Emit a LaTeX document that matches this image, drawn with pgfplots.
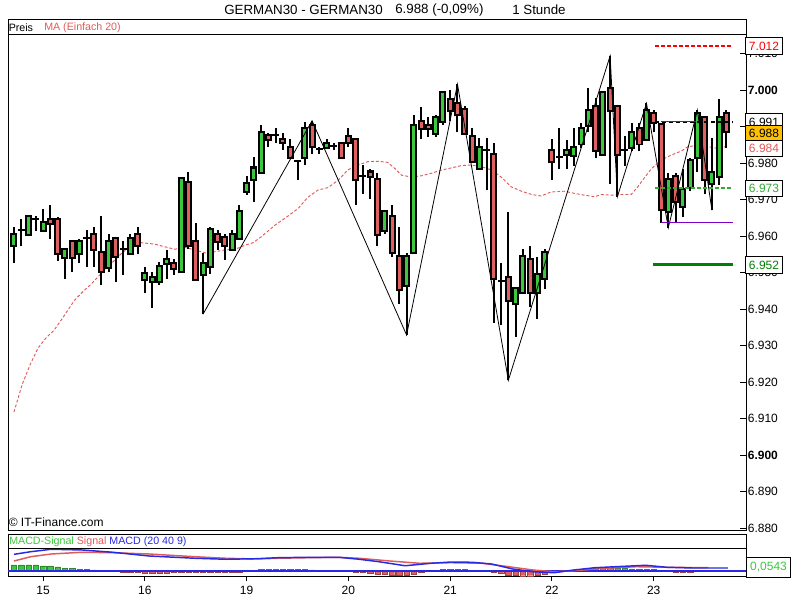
\documentclass[border=0pt]{standalone}
\usepackage{fontspec}
\setmainfont{Liberation Sans}
\usepackage{pgfplots}
\usepackage{pgfplotstable}
\pgfplotsset{compat=1.18}
\definecolor{cg}{RGB}{60,200,60}
\definecolor{cr}{RGB}{222,96,96}
\definecolor{ma}{RGB}{225,90,90}
\definecolor{mb}{RGB}{40,40,230}
\definecolor{pu}{RGB}{130,0,200}
\definecolor{dg}{RGB}{0,128,0}
\definecolor{gold}{RGB}{255,192,0}

\pgfplotstableread{
i L H lo hi
0 6.9525 6.9625 6.9572 6.9607
1 6.9572 6.9646 6.9616 6.9616
2 6.9600 6.9658 6.9602 6.9656
3 6.9614 6.9656 6.9648 6.9648
4 6.9614 6.9673 6.9614 6.9638
7 6.9483 6.9567 6.9541 6.9565
9 6.9525 6.9593 6.9552 6.9587
10 6.9514 6.9616 6.9595 6.9595
13 6.9502 6.9605 6.9513 6.9587
15 6.9493 6.9586 6.9564 6.9564
16 6.9550 6.9605 6.9552 6.9595
18 6.9445 6.9514 6.9481 6.9498
19 6.9404 6.9502 6.9474 6.9487
20 6.9465 6.9530 6.9474 6.9518
21 6.9483 6.9563 6.9523 6.9537
23 6.9500 6.9760 6.9501 6.9758
26 6.9386 6.9553 6.9493 6.9527
27 6.9496 6.9625 6.9514 6.9620
30 6.9560 6.9616 6.9562 6.9607
31 6.9591 6.9684 6.9593 6.9668
32 6.9713 6.9764 6.9722 6.9746
33 6.9694 6.9817 6.9753 6.9788
34 6.9772 6.9904 6.9774 6.9886
36 6.9854 6.9895 6.9876 6.9876
39 6.9755 6.9808 6.9806 6.9806
40 6.9795 6.9913 6.9813 6.9895
42 6.9825 6.9845 6.9838 6.9838
43 6.9840 6.9865 6.9841 6.9856
44 6.9836 6.9856 6.9847 6.9847
48 6.9715 6.9795 6.9764 6.9764
51 6.9605 6.9672 6.9614 6.9668
54 6.9329 6.9555 6.9464 6.9546
55 6.9551 6.9933 6.9553 6.9904
58 6.9872 6.9933 6.9881 6.9927
59 6.9904 6.9997 6.9913 6.9995
64 6.9782 6.9868 6.9784 6.9845
65 6.9726 6.9868 6.9836 6.9836
67 6.9356 6.9525 6.9477 6.9477
69 6.9324 6.9459 6.9413 6.9457
70 6.9441 6.9564 6.9443 6.9546
72 6.9374 6.9543 6.9443 6.9496
73 6.9455 6.9564 6.9482 6.9557
75 6.9784 6.9895 6.9816 6.9816
76 6.9784 6.9863 6.9822 6.9836
77 6.9793 6.9895 6.9820 6.9845
78 6.9842 6.9911 6.9851 6.9897
79 6.9884 7.0005 6.9902 6.9945
81 6.9820 6.9998 6.9822 6.9996
84 6.9793 6.9875 6.9836 6.9836
85 6.9833 6.9911 6.9842 6.9886
87 6.9861 6.9964 6.9863 6.9945
90 6.9623 6.9772 6.9667 6.9756
92 6.9653 6.9785 6.9680 6.9729
93 6.9723 6.9815 6.9731 6.9808
94 6.9775 6.9945 6.9813 6.9936
96 6.9671 6.9868 6.9744 6.9776
97 6.9740 6.9975 6.9762 6.9927
}\greentab

\pgfplotstableread{
i L H lo hi
5 6.9593 6.9685 6.9634 6.9646
6 6.9532 6.9653 6.9552 6.9647
8 6.9501 6.9589 6.9541 6.9587
11 6.9514 6.9624 6.9561 6.9607
12 6.9465 6.9655 6.9502 6.9557
14 6.9475 6.9597 6.9543 6.9595
17 6.9552 6.9624 6.9572 6.9607
22 6.9493 6.9537 6.9511 6.9527
24 6.9566 6.9776 6.9574 6.9747
25 6.9478 6.9635 6.9481 6.9587
28 6.9562 6.9616 6.9585 6.9606
29 6.9534 6.9606 6.9573 6.9597
35 6.9843 6.9883 6.9863 6.9876
37 6.9836 6.9883 6.9854 6.9867
38 6.9811 6.9865 6.9813 6.9845
41 6.9825 6.9916 6.9843 6.9904
45 6.9811 6.9858 6.9813 6.9856
46 6.9843 6.9895 6.9854 6.9874
47 6.9684 6.9869 6.9753 6.9867
49 6.9703 6.9785 6.9762 6.9777
50 6.9574 6.9774 6.9603 6.9756
52 6.9543 6.9685 6.9553 6.9656
53 6.9415 6.9624 6.9452 6.9546
56 6.9866 6.9954 6.9893 6.9915
57 6.9872 6.9927 6.9893 6.9904
60 6.9915 7.0000 6.9942 6.9975
61 6.9884 7.0016 6.9931 6.9964
62 6.9879 6.9957 6.9881 6.9948
63 6.9800 6.9895 6.9802 6.9875
66 6.9363 6.9854 6.9482 6.9826
68 6.9205 6.9665 6.9422 6.9487
71 6.9406 6.9574 6.9443 6.9536
74 6.9753 6.9866 6.9802 6.9836
80 6.9815 6.9979 6.9833 6.9957
82 6.9744 7.0094 6.9943 7.0006
83 6.9708 6.9959 6.9822 6.9957
86 6.9833 6.9911 6.9851 6.9897
88 6.9884 6.9945 6.9911 6.9936
89 6.9635 6.9908 6.9671 6.9906
91 6.9639 6.9774 6.9694 6.9765
95 6.9714 6.9929 6.9753 6.9927
98 6.9842 6.9945 6.9884 6.9936
}\redtab

\pgfplotsset{
  wick/.style={draw=none, mark=none, forget plot,
    error bars/.cd, y dir=plus, y explicit, error mark=none,
    error bar style={draw=black, solid, line width=1.5pt}},
  bodyout/.style={draw=none, mark=none, forget plot,
    error bars/.cd, y dir=plus, y explicit, error mark=none,
    error bar style={draw=black, solid, line width=5.25pt}},
  bodyin/.style={draw=none, mark=none, forget plot,
    error bars/.cd, y dir=plus, y explicit, error mark=none,
    error bar style={draw=#1, solid, line width=2.25pt}},
}

\begin{document}
\begin{tikzpicture}
\path (0,0) rectangle (600pt,450pt);

% ---------------- main price axis ----------------
\begin{axis}[
  at={(6pt,51.75pt)}, anchor=south west, scale only axis,
  width=553.5pt, height=372pt,
  xmin=-0.825, xmax=100.69, ymin=6.8792, ymax=7.0151,
  xtick=\empty,
  ytick={6.88,6.89,6.90,6.91,6.92,6.93,6.94,6.95,6.96,6.97,6.98,6.99,7.00,7.01},
  yticklabels={6.880,6.890,\textbf{6.900},6.910,6.920,6.930,6.940,6.950,6.960,6.970,6.980,6.990,\textbf{7.000},7.010},
  ytick pos=right, yticklabel pos=right,
  tick align=inside, major tick length=4.5pt,
  tick style={black, line width=0.75pt},
  yticklabel style={font=\fontsize{9}{10}\selectfont, anchor=west, inner sep=0pt, xshift=1.2pt},
  axis line style={line width=0.75pt},
  clip mode=individual,
]
% moving average 20
\addplot[ma, line width=0.7pt, dash pattern=on 2.2pt off 1.5pt] coordinates {
(0,6.9118) (1.1,6.9192) (2.2,6.9247) (3.3,6.9293) (4.4,6.9321) (5.5,6.9342) (6.6,6.9373) (8.35,6.9425) (9.7,6.9452) (10.6,6.9468) (12.0,6.9498) (13.4,6.9525) (14.8,6.9553) (16.1,6.9573) (17.5,6.9582) (19.35,6.9578) (20.7,6.9571) (22.1,6.9564) (23.5,6.9569) (24.9,6.9562) (26.3,6.9554) (27.6,6.9557) (29.0,6.9562) (30.4,6.9564) (31.8,6.9575) (32.9,6.9582) (34.0,6.9598) (35.9,6.9630) (37.7,6.9655) (39.1,6.9676) (40.4,6.9706) (41.8,6.9726) (43.2,6.9733) (44.6,6.9753) (45.9,6.9781) (47.3,6.9795) (48.7,6.9804) (50.1,6.9805) (51.4,6.9802) (52.4,6.9785) (53.3,6.9767) (54.6,6.9762) (56.0,6.9765) (57.4,6.9772) (58.8,6.9781) (60.2,6.9787) (61.5,6.9793) (62.9,6.9795) (64.3,6.9790) (65.7,6.9781) (67.0,6.9762) (68.4,6.9735) (69.8,6.9723) (71.2,6.9714) (72.5,6.9710) (73.9,6.9721) (75.7,6.9723) (77.1,6.9717) (78.5,6.9712) (79.9,6.9708) (80.8,6.9714) (82.2,6.9712) (83.5,6.9714) (84.9,6.9714) (85.8,6.9735) (86.8,6.9762) (87.7,6.9785) (89.0,6.9808) (90.4,6.9822) (91.8,6.9833) (92.7,6.9845) (94.1,6.9849) (95.5,6.9845) (96.8,6.9840) (98.2,6.9847)
};
% wicks
\addplot[wick] table[x=i, y=L, y error plus expr=\thisrow{H}-\thisrow{L}] {\greentab};
\addplot[wick] table[x=i, y=L, y error plus expr=\thisrow{H}-\thisrow{L}] {\redtab};
% bodies
\addplot[bodyout] table[x=i, y expr=\thisrow{lo}-0.00027, y error plus expr=\thisrow{hi}-\thisrow{lo}+0.00055] {\greentab};
\addplot[bodyout] table[x=i, y expr=\thisrow{lo}-0.00027, y error plus expr=\thisrow{hi}-\thisrow{lo}+0.00055] {\redtab};
\addplot[bodyin=cg] table[x=i, y expr=\thisrow{lo}+0.00027, y error plus expr={max(\thisrow{hi}-\thisrow{lo}-0.00055,0)}] {\greentab};
\addplot[bodyin=cr] table[x=i, y expr=\thisrow{lo}+0.00027, y error plus expr={max(\thisrow{hi}-\thisrow{lo}-0.00055,0)}] {\redtab};
% zigzag
\addplot[black, line width=0.6pt] coordinates {
(26,6.9386) (41,6.9916) (54,6.9329) (61,7.0016) (68,6.9205) (82,7.0094) (83,6.9708) (87,6.9964) (90,6.9623) (94,6.9945) (96,6.9671)
};
% horizontal levels
\addplot[red, line width=1.5pt, dash pattern=on 3pt off 1.5pt] coordinates {(88.2,7.012) (98.9,7.012)};
\addplot[black, line width=1.5pt, dash pattern=on 3pt off 2.25pt] coordinates {(88.2,6.9912) (98.9,6.9912)};
\addplot[pu, line width=0.75pt] coordinates {(89.0,6.9915) (93.8,6.9915)};
\addplot[pu, line width=0.75pt] coordinates {(89.0,6.9636) (98.9,6.9636)};
\addplot[cg!85!black, line width=1.5pt, dash pattern=on 3pt off 1.5pt] coordinates {(88.2,6.9733) (98.9,6.9733)};
\addplot[dg, line width=2pt] coordinates {(87.9,6.9523) (98.9,6.9523)};
\end{axis}

% ---------------- MACD axis ----------------
\begin{axis}[
  at={(6pt,17.25pt)}, anchor=south west, scale only axis,
  width=553.5pt, height=21pt,
  xmin=-0.825, xmax=100.69, ymin=-0.108, ymax=0.396,
  xtick={4,18,32,46,60,74,88}, xticklabels={15,16,19,20,21,22,23},
  xtick pos=bottom, ytick=\empty,
  tick align=outside, major tick length=3pt,
  tick style={black, line width=0.75pt},
  xticklabel style={font=\fontsize{9}{10}\selectfont, inner sep=0pt, yshift=-4pt},
  axis line style={line width=0.75pt},
]
\addplot[ybar, bar shift=0pt, bar width=4pt, fill=cg, draw=cg!70!black, line width=0.3pt] coordinates {
(0,0.108) (1,0.108) (2,0.108) (3,0.108) (4,0.09) (5,0.09) (6,0.072) (7,0.045) (8,0.045) (9,0.027) (10,0.027) (11,0.018)
(34,0.025) (35,0.025) (36,0.025) (37,0.025) (38,0.025) (39,0.025) (40,0.025) (41,0.02)
(59,0.027) (60,0.027) (61,0.027) (62,0.027)
(78,0.02) (79,0.03) (80,0.045) (81,0.05) (82,0.05) (83,0.05) (84,0.045) (85,0.04) (86,0.035) (87,0.03) (88,0.025)
};
\addplot[ybar, bar shift=0pt, bar width=4pt, fill=cr, draw=cr!70!black, line width=0.3pt] coordinates {
(15,-0.025) (16,-0.025) (17,-0.03) (18,-0.035) (19,-0.035) (20,-0.035) (21,-0.035) (22,-0.03) (23,-0.03) (24,-0.03) (25,-0.03) (26,-0.03) (27,-0.03) (28,-0.03) (29,-0.03) (30,-0.025) (31,-0.025)
(47,-0.02) (48,-0.03) (49,-0.04) (50,-0.05) (51,-0.06) (52,-0.075) (53,-0.08) (54,-0.075) (55,-0.05) (56,-0.03)
(66,-0.03) (67,-0.045) (68,-0.07) (69,-0.08) (70,-0.085) (71,-0.085) (72,-0.07) (73,-0.05) (74,-0.03)
(91,-0.03) (92,-0.03) (93,-0.03)
};
\addplot[mb, line width=1.1pt] coordinates {(-0.825,0) (100.69,0)};
\addplot[ma, line width=1.1pt] coordinates {
(0,0.18) (2.3,0.257) (5.1,0.306) (9.4,0.337) (13.6,0.329) (18.6,0.306) (24.9,0.257) (29.2,0.229) (33.3,0.216) (36.2,0.229) (40.4,0.239) (44.6,0.247) (47.5,0.229) (51.7,0.18) (55.8,0.139) (60.1,0.149) (64.4,0.139) (67.3,0.09) (71.4,0.018) (74.3,-0.013) (77.0,0.005) (81.3,0.049) (85.6,0.077) (89.8,0.067) (95.5,0.059)
};
\addplot[mb, line width=1.1pt] coordinates {
(0,0.30) (2.3,0.347) (5.1,0.391) (9.4,0.378) (13.6,0.337) (18.6,0.27) (24.9,0.229) (29.2,0.211) (33.3,0.221) (36.2,0.239) (40.4,0.247) (44.6,0.247) (47.5,0.211) (50.2,0.167) (53.8,0.095) (57.4,0.139) (60.1,0.162) (63.0,0.157) (65.7,0.126) (68.6,0.036) (71.4,-0.013) (74.3,-0.031) (77.0,0.018) (79.9,0.059) (82.7,0.077) (86.9,0.103) (89.8,0.067) (93.3,0.054) (98.2,0.054)
};
\end{axis}

% ---------------- texts and frames (pixel coordinates) ----------------
\begin{scope}[x=0.75pt, y=-0.75pt, yshift=450pt]
\node[anchor=west, inner sep=0pt, font=\fontsize{10}{12}\selectfont] at (224,10) {GERMAN30 - GERMAN30};
\node[anchor=west, inner sep=0pt, font=\fontsize{10}{12}\selectfont] at (395,10) {6.988 (-0,09\%)};
\node[anchor=west, inner sep=0pt, font=\fontsize{10}{12}\selectfont] at (512,10) {1 Stunde};
\draw[line width=0.75pt] (8,20) rectangle (746,35);
\node[anchor=west, inner sep=0pt, font=\fontsize{8}{10}\selectfont] at (8.5,28) {Preis};
\node[anchor=west, inner sep=0pt, font=\fontsize{8}{10}\selectfont, text=ma] at (44,28) {MA (Einfach 20)};
\node[anchor=west, inner sep=0pt, font=\fontsize{9}{10}\selectfont] at (8.5,522) {© IT-Finance.com};
% MACD header
\draw[line width=0.75pt] (8,535) rectangle (746,549);
\node[anchor=west, inner sep=0pt, font=\fontsize{8}{10}\selectfont] at (9,542) {\textcolor{cg}{MACD-Signal} \textcolor{ma}{Signal} \textcolor{mb}{MACD (20 40 9)}};
% price boxes
\tikzset{pbox/.style={draw=black, line width=0.75pt, fill=white, minimum width=27.75pt, minimum height=12.5pt, inner sep=0pt, font=\fontsize{9}{10}\selectfont, anchor=west}}
\node[pbox, text=red] at (745,46.2) {7.012};
\node[pbox] at (745,122.0) {6.991};
\node[pbox, fill=gold] at (745,133.6) {6.988};
\node[pbox, text=ma] at (745,148.6) {6.984};
\node[pbox, text=cg!85!black] at (745,188.5) {6.973};
\node[pbox, text=dg] at (745,265.2) {6.952};
\node[pbox, text=cg, minimum width=33pt, minimum height=15pt] at (746,567.5) {0,0543};
\end{scope}
\end{tikzpicture}
\end{document}
